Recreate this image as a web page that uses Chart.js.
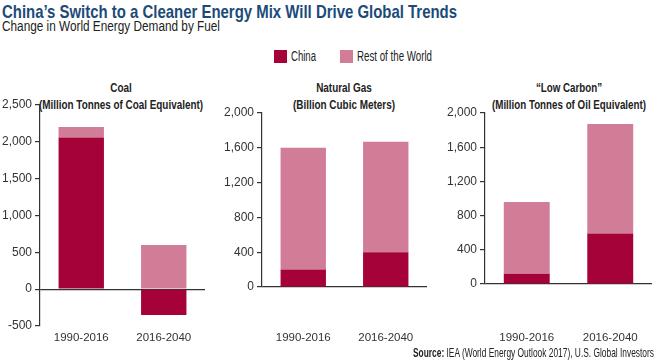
<!DOCTYPE html>
<html>
<head>
<meta charset="utf-8">
<script src="https://cdn.jsdelivr.net/npm/chart.js@4.4.1/dist/chart.umd.min.js"></script>
<style>
  body { margin: 0; background: #fff; }
  #wrap { position: relative; width: 660px; height: 364px; overflow: hidden; font-family: 'Liberation Sans Narrow', 'Liberation Sans', Arial, sans-serif; color: #222; }
  .txt { position: absolute; white-space: nowrap; transform-origin: left top; }
  .ctr { text-align: center; transform-origin: center top; }
  canvas { position: absolute; }
  .sw { position: absolute; width: 13px; height: 13px; }
</style>
</head>
<body>
<div id="wrap">
  <div class="txt fit" data-w="455" style="left:2px; top:1px; font-size:19px; font-weight:bold; color:#1c4b7a;">China’s Switch to a Cleaner Energy Mix Will Drive Global Trends</div>
  <div class="txt fit" data-w="218" style="left:2px; top:18px; font-size:14px; color:#222;">Change in World Energy Demand by Fuel</div>

  <div class="sw" style="left:274px; top:50px; background:#a6023a"></div>
  <div class="txt fit" data-w="25" style="left:291px; top:48px; font-size:14px;">China</div>
  <div class="sw" style="left:340px; top:50px; background:#d27d98"></div>
  <div class="txt fit" data-w="75" style="left:357px; top:48px; font-size:14px;">Rest of the World</div>

  <div class="txt ctr fit" data-w="164" style="left:1px; width:240px; top:80px; font-size:12.5px; font-weight:bold; line-height:17px;">Coal<br>(Million Tonnes of Coal Equivalent)</div>
  <div class="txt ctr fit" data-w="102" style="left:224px; width:240px; top:80px; font-size:12.5px; font-weight:bold; line-height:17px;">Natural Gas<br>(Billion Cubic Meters)</div>
  <div class="txt ctr fit" data-w="154" style="left:449px; width:240px; top:80px; font-size:12.5px; font-weight:bold; line-height:17px;">“Low Carbon”<br>(Million Tonnes of Oil Equivalent)</div>

  <canvas id="coal" width="220" height="270" style="left:0; top:90px;"></canvas>
  <canvas id="gas" width="220" height="270" style="left:220px; top:90px;"></canvas>
  <canvas id="low" width="220" height="270" style="left:440px; top:90px;"></canvas>

  <div class="txt fit" id="src" data-w="241" style="left:413px; top:345px; font-size:13.5px;"><b>Source:</b> IEA (World Energy Outlook 2017), U.S. Global Investors</div>
</div>
<script>
const periods = ['1990-2016', '2016-2040'];
const coalChina = [2060, -350];
const coalRest = [140, 600];
const gasChina = [200, 400];
const gasRest = [1400, 1270];
const lowChina = [120, 590];
const lowRest = [840, 1280];

const chinaColor = '#a6023a';
const restColor = '#d27d98';
const axisColor = '#333';
const fontFamily = "'Liberation Sans', Arial, sans-serif";

// squeeze condensed texts to the widths seen in the reference
document.querySelectorAll('.fit').forEach(el => {
    const target = +el.dataset.w;
    let w = 0;
    if (el.classList.contains('ctr')) {
        const probe = document.createElement('span');
        probe.style.cssText = 'position:absolute;visibility:hidden;white-space:nowrap;font-weight:bold;font-size:' + el.style.fontSize;
        probe.style.fontFamily = getComputedStyle(el).fontFamily;
        el.innerHTML.split('<br>').forEach(line => {
            probe.innerHTML = line;
            document.body.appendChild(probe);
            w = Math.max(w, probe.getBoundingClientRect().width);
            probe.remove();
        });
    } else {
        w = el.getBoundingClientRect().width;
    }
    el.style.transform = 'scaleX(' + (target / w) + ')';
});

function makeChart(id, china, rest, yOpts, layout) {
    new Chart(document.getElementById(id), {
        type: 'bar',
        data: {
            labels: periods,
            datasets: [
                { label: 'China', data: china, backgroundColor: chinaColor, barPercentage: 0.55, categoryPercentage: 1 },
                { label: 'Rest of the World', data: rest, backgroundColor: restColor, barPercentage: 0.55, categoryPercentage: 1 }
            ]
        },
        options: {
            responsive: false,
            animation: false,
            layout: { padding: { top: layout.top, right: layout.right, left: 0, bottom: 0 } },
            plugins: { legend: { display: false }, tooltip: { enabled: false } },
            scales: {
                x: {
                    stacked: true,
                    grid: { display: false, drawTicks: false },
                    border: { display: false },
                    ticks: { color: axisColor, font: { family: fontFamily, size: 11.5 }, padding: layout.xPad, maxRotation: 0 },
                    afterFit: s => {
                        s.height = layout.xHeight;
                        // labels sit far below the axis; don't let that padding eat the plot width
                        s.paddingLeft = 0;
                        s.paddingRight = 0;
                    }
                },
                y: {
                    stacked: true,
                    min: yOpts.min, max: yOpts.max,
                    ticks: {
                        stepSize: yOpts.step, color: axisColor, font: { family: fontFamily, size: 12 }, padding: 3,
                        callback: v => v.toLocaleString('en-US')
                    },
                    grid: {
                        color: ctx => (ctx.tick && ctx.tick.value === 0) ? axisColor : 'rgba(0,0,0,0)',
                        tickColor: axisColor, tickLength: 5, lineWidth: 1.2
                    },
                    border: { display: true, color: axisColor, width: 1.2 },
                    afterFit: s => { s.width = layout.yWidth; }
                }
            }
        }
    });
}

makeChart('coal', coalChina, coalRest, { min: -500, max: 2500, step: 500 },
    { top: 15, right: 15, yWidth: 40, xHeight: 34, xPad: 5 });
makeChart('gas', gasChina, gasRest, { min: 0, max: 2000, step: 400 },
    { top: 23, right: 13, yWidth: 42, xHeight: 73, xPad: 44 });
makeChart('low', lowChina, lowRest, { min: 0, max: 2000, step: 400 },
    { top: 23, right: 8, yWidth: 45, xHeight: 76, xPad: 47 });
</script>
</body>
</html>
